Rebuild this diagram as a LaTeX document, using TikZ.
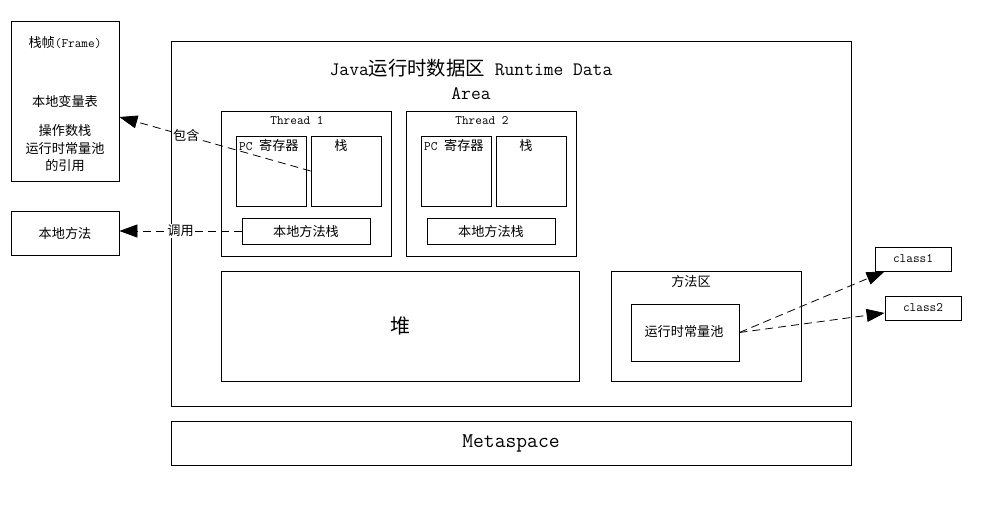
\documentclass[tikz,border=0pt]{standalone}
\usepackage{fontspec}
\setmainfont{Latin Modern Mono}
\newfontfamily\cjk{Noto Sans CJK SC}[Scale=1.02]
\newcommand{\zh}[1]{{\cjk #1}}
\usetikzlibrary{arrows.meta}
\begin{document}
\begin{tikzpicture}[x=1pt,y=-1pt,
  box/.style={draw, line width=0.8pt, inner sep=0pt},
  txt/.style={inner sep=0pt, font=\fontsize{12.9}{15}\selectfont},
  dasharrow/.style={line width=0.8pt, dash pattern=on 8pt off 5pt, -{Triangle[length=18pt,width=13pt]}},
  lbl/.style={fill=white, inner sep=1pt, font=\fontsize{12.9}{15}\selectfont}]
\useasboundingbox (0,0) rectangle (983,524);
\fill[white] (0,0) rectangle (983,524);
% left boxes
\node[box, minimum width=108pt, minimum height=160pt] (frame) at (65,101) {};
\node[txt] (f1) at (65,43) {\zh{栈帧}(Frame)};
\node[txt] (f2) at (65,101) {\zh{本地变量表}};
\node[txt] (f3) at (65,131) {\zh{操作数栈}};
\node[txt] (f4) at (65,149) {\zh{运行时常量池}};
\node[txt] (f5) at (65,166) {\zh{的引用}};
\node[box, minimum width=108pt, minimum height=44pt] (native) at (65,233) {};
\node[txt] (nativet) at (65,233) {\zh{本地方法}};
% runtime data area
\node[box, minimum width=680pt, minimum height=365pt] (rda) at (511,223.5) {};
\node[inner sep=0pt, font=\fontsize{19}{24}\selectfont, align=center] (rdat) at (471,79) {Java\zh{运行时数据区} Runtime Data\\Area};
% thread 1
\node[box, minimum width=170pt, minimum height=145pt] (t1) at (306,183.5) {};
\node[txt] (t1t) at (297,121) {Thread 1};
\node[box, minimum width=70pt, minimum height=70pt] (pc1) at (271,171) {};
\node[txt, anchor=west] (pc1t) at (239,145) {PC \zh{寄存器}};
\node[box, minimum width=70pt, minimum height=70pt] (st1) at (346,171) {};
\node[txt] (st1t) at (341,145) {\zh{栈}};
\node[box, minimum width=128pt, minimum height=26pt] (nms1) at (306,231) {};
\node[txt] (nms1t) at (306,231) {\zh{本地方法栈}};
% thread 2
\node[box, minimum width=170pt, minimum height=145pt] (t2) at (491,183.5) {};
\node[txt] (t2t) at (482,121) {Thread 2};
\node[box, minimum width=70pt, minimum height=70pt] (pc2) at (456,171) {};
\node[txt, anchor=west] (pc2t) at (424,145) {PC \zh{寄存器}};
\node[box, minimum width=70pt, minimum height=70pt] (st2) at (531,171) {};
\node[txt] (st2t) at (526,145) {\zh{栈}};
\node[box, minimum width=128pt, minimum height=26pt] (nms2) at (491,231) {};
\node[txt] (nms2t) at (491,231) {\zh{本地方法栈}};
% heap
\node[box, minimum width=358pt, minimum height=110pt] (heap) at (400,326) {};
\node[inner sep=0pt, font=\fontsize{19.6}{22}\selectfont] (heapt) at (400,326) {\zh{堆}};
% method area
\node[box, minimum width=190pt, minimum height=110pt] (ma) at (706,326) {};
\node[txt] (mat) at (691,281) {\zh{方法区}};
\node[box, minimum width=108pt, minimum height=57pt] (pool) at (685,332.5) {};
\node[txt] (poolt) at (684,332) {\zh{运行时常量池}};
% classes
\node[box, minimum width=76pt, minimum height=24pt] (c1) at (913,259) {};
\node[txt] (c1t) at (913,259) {class1};
\node[box, minimum width=76pt, minimum height=24pt] (c2) at (923,308) {};
\node[txt] (c2t) at (923,308) {class2};
% metaspace
\node[box, minimum width=680pt, minimum height=44pt] (meta) at (511,443) {};
\node[inner sep=0pt, font=\fontsize{21}{24}\selectfont] (metat) at (511,443) {Metaspace};
% connectors
\draw[dasharrow] (st1.west) -- node[lbl, pos=0.65] {\zh{包含}} ([yshift=-16pt]frame.east);
\draw[dasharrow] (nms1.west) -- node[lbl, pos=0.5] {\zh{调用}} ([yshift=2pt]native.east);
\draw[dasharrow] (pool.east) -- ([xshift=10pt]c1.south west);
\draw[dasharrow] (pool.east) -- ([yshift=-5pt]c2.west);
\end{tikzpicture}
\end{document}
